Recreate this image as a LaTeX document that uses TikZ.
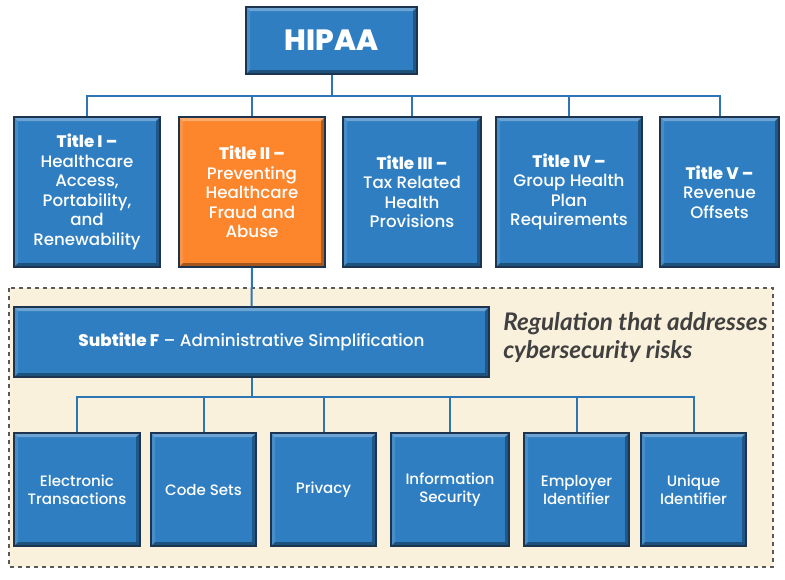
\documentclass[tikz,border=0pt]{standalone}
\usepackage{fontspec}
\setmainfont{Poppins}[UprightFont = * Medium, BoldFont = * ExtraBold]
\newfontfamily\notefont{Lato}
\usepackage{xcolor}
\usepackage{tikz}

\definecolor{boxblue}{HTML}{2E7EC1}
\definecolor{boxorange}{HTML}{FD862C}
\definecolor{edgedark}{HTML}{1C3450}
\definecolor{linkblue}{HTML}{2E75B6}
\definecolor{areabeige}{HTML}{FAF1DC}
\definecolor{notegray}{HTML}{404040}

\begin{document}
\begin{tikzpicture}[x = 0.75pt, y = -0.75pt,
  block/.style = {draw = edgedark, line width = 1pt, fill = boxblue, text = white, align = center, inner sep = 2pt,
    path picture = {
      \fill [white, opacity = 0.3] (path picture bounding box.north west) -- (path picture bounding box.north east) -- ([shift = {(-3pt, -3pt)}] path picture bounding box.north east) -- ([shift = {(3pt, -3pt)}] path picture bounding box.north west) -- cycle;
      \fill [black, opacity = 0.35] (path picture bounding box.south west) -- (path picture bounding box.south east) -- ([shift = {(-3pt, 3pt)}] path picture bounding box.south east) -- ([shift = {(3pt, 3pt)}] path picture bounding box.south west) -- cycle;
      \fill [black, opacity = 0.3] (path picture bounding box.north east) -- (path picture bounding box.south east) -- ([shift = {(-3pt, 3pt)}] path picture bounding box.south east) -- ([shift = {(-3pt, -3pt)}] path picture bounding box.north east) -- cycle;
      \fill [white, opacity = 0.12] (path picture bounding box.north west) -- (path picture bounding box.south west) -- ([shift = {(3pt, 3pt)}] path picture bounding box.south west) -- ([shift = {(3pt, -3pt)}] path picture bounding box.north west) -- cycle;
    }},
  title/.style = {block, minimum height = 112.5pt, font = \fontsize{12.5}{14.6}\selectfont},
  leaf/.style = {block, minimum width = 78.75pt, minimum height = 84.75pt, font = \fontsize{11.3}{13.5}\selectfont},
  link/.style = {draw = linkblue, line width = 1.5pt}]
\useasboundingbox (0, 0) rectangle (785, 579);

% area of subtitle F
\draw [dashed, draw = black!65, fill = areabeige, line width = 0.8pt] (9, 288) rectangle (773, 567);
\node [anchor = north west, align = left, text = notegray, font = \notefont\bfseries\itshape\fontsize{18.2}{21}\selectfont, inner sep = 0pt] (note) at (503, 312) {Regulation that addresses\\cybersecurity risks};

% top
\node [block, minimum width = 128.25pt, minimum height = 50.25pt, font = \bfseries\fontsize{22}{26}\selectfont] (hipaa) at (331.5, 40.5) {HIPAA};

% titles
\node [title, minimum width = 109.5pt] (t1) at (87, 192) {\textbf{Title I –}\\Healthcare\\Access,\\Portability,\\and\\Renewability};
\node [title, minimum width = 109.5pt, fill = boxorange] (t2) at (252, 192) {\textbf{Title II –}\\Preventing\\Healthcare\\Fraud and\\Abuse};
\node [title, minimum width = 103.5pt] (t3) at (412, 192) {\textbf{Title III –}\\Tax Related\\Health\\Provisions};
\node [title, minimum width = 109.5pt] (t4) at (569, 192) {\textbf{Title IV –}\\Group Health\\Plan\\Requirements};
\node [title, minimum width = 89.25pt] (t5) at (719.5, 192) {\textbf{Title V –}\\Revenue\\Offsets};

\coordinate (topbus) at (331.5, 96);
\draw [link] (hipaa.south) -- (hipaa.south |- topbus);
\foreach \t in {t1, t2, t3, t4, t5}
  \draw [link] (hipaa.south |- topbus) -| (\t.north);

% subtitle
\node [block, minimum width = 356.25pt, minimum height = 52.5pt, font = \fontsize{12.6}{14}\selectfont] (subf) at (251.5, 342) {\textbf{Subtitle F} – Administrative Simplification};
\draw [link] (t2.south) -- (subf.north);

% parts of subtitle F
\node [leaf, minimum width = 94.5pt] (et) at (77, 489.5) {Electronic\\Transactions};
\node [leaf] (cs) at (203.5, 489.5) {Code Sets};
\node [leaf] (pv) at (323.5, 489.5) {Privacy};
\node [leaf, minimum width = 88.5pt] (is) at (450, 489.5) {Information\\Security};
\node [leaf] (ei) at (576.5, 489.5) {Employer\\Identifier};
\node [leaf] (ui) at (693.5, 489.5) {Unique\\Identifier};

\coordinate (lowbus) at (251.5, 397);
\draw [link] (subf.south) -- (lowbus);
\foreach \p in {et, cs, pv, is, ei, ui}
  \draw [link] (lowbus) -| (\p.north);
\end{tikzpicture}
\end{document}
